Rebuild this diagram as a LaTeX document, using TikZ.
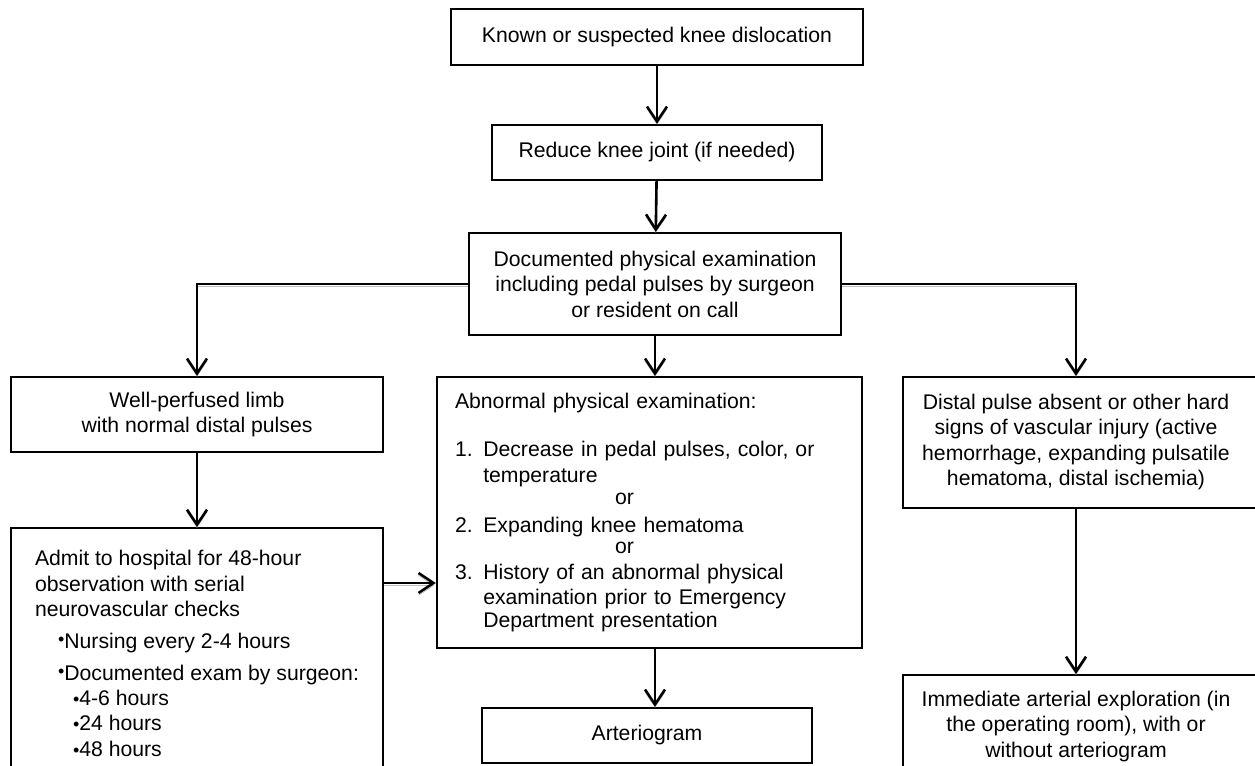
\documentclass[tikz,border=0pt]{standalone}
\usepackage{fontspec}
\setmainfont{Liberation Sans}
\usepackage{tikz}
\usetikzlibrary{arrows.meta}

\begin{document}
\begin{tikzpicture}[x=0.5pt, y=-0.5pt,
  font=\fontsize{10.6}{12.75}\selectfont,
  box/.style={draw, line width=1.15pt, inner sep=0pt, align=center},
  link/.style={line width=1.3pt, -{Straight Barb[length=7.5pt,width=10pt]},
    preaction={draw=gray!50, transform canvas={yshift=-1.2pt}}}]
\useasboundingbox (0,0) rectangle (1255,766);
\clip (0,0) rectangle (1255,766);
\node[box, minimum width=206pt, minimum height=28pt] (known) at (657,37) {Known or suspected knee dislocation};
\node[box, minimum width=165pt, minimum height=27.5pt] (reduce) at (657,152.5) {Reduce knee joint (if needed)};
\node[box, minimum width=186pt, minimum height=51pt] (exam) at (655,284) {Documented physical examination\\including pedal pulses by surgeon\\or resident on call};
\node[box, minimum width=186pt, minimum height=37.5pt] (perfused) at (197,414.5) {Well-perfused limb\\with normal distal pulses};
\node[box, minimum width=212.5pt, minimum height=135.5pt, text width=194.5pt, align=left] (abnormal) at (649.5,512.5) {Abnormal physical examination:\\[11.5pt]
1. Decrease in pedal pulses, color, or\\
\hphantom{1. }temperature\\[-1.5pt]
\hspace*{80pt}or\\[1pt]
2. Expanding knee hematoma\\[-2pt]
\hspace*{80pt}or\\
3. History of an abnormal physical\\
\hphantom{3. }examination prior to Emergency\\[-1.5pt]
\hphantom{3. }Department presentation};
\node[box, minimum width=200pt, minimum height=65.5pt] (hard) at (1103,442.5) {\begin{tabular}{@{}c@{}}Distal pulse absent or other hard\\signs of vascular injury (active\\hemorrhage, expanding pulsatile\\hematoma, distal ischemia)\end{tabular}\hspace{27pt}};
\node[box, anchor=north, minimum width=186pt, inner ysep=11pt, align=left] (admit) at (197,527) {Admit to hospital for 48-hour\\
observation with serial\\
neurovascular checks\\[3pt]
\hspace*{11.5pt}\raisebox{1.5pt}{\small•}Nursing every 2-4 hours\\[3.5pt]
\hspace*{11.5pt}\raisebox{1.5pt}{\small•}Documented exam by surgeon:\\[-0.5pt]
\hspace*{19pt}{\small•}4-6 hours\\
\hspace*{19pt}{\small•}24 hours\\
\hspace*{19pt}{\small•}48 hours};
\node[box, minimum width=165pt, minimum height=27.5pt] (arterio) at (647,735.5) {Arteriogram};
\node[box, anchor=north, minimum width=200pt, inner ysep=6.5pt, text depth=15pt] (explore) at (1103,674) {\begin{tabular}{@{}c@{}}Immediate arterial exploration (in\\the operating room), with or\\without arteriogram\end{tabular}\hspace{27pt}};
\coordinate (side) at (0,583);
\coordinate (rcol) at (1076,0);
\draw[link] (known) -- (reduce);
\draw[link] (reduce) -- (exam);
\draw[link] (exam.west) -| (perfused.north);
\draw[link] (exam.east) -| (rcol |- hard.north);
\draw[link] (exam.south) -- (exam.south |- abnormal.north);
\draw[link] (perfused) -- (admit);
\draw[link] (admit.east |- side) -- (abnormal.west |- side);
\draw[link] (abnormal.south -| exam.south) -- (arterio.north -| exam.south);
\draw[link] (rcol |- hard.south) -- (rcol |- explore.north);
\end{tikzpicture}
\end{document}
